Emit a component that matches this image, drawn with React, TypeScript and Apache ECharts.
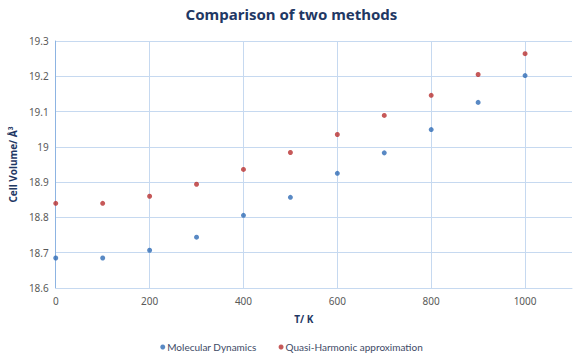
import React, { useEffect, useRef } from "react";
import * as echarts from "echarts";

const temperatures = [0, 100, 200, 300, 400, 500, 600, 700, 800, 900, 1000];
const mdValues = [18.685, 18.685, 18.707, 18.744, 18.806, 18.857, 18.925, 18.983, 19.049, 19.126, 19.202];
const qhaValues = [18.84, 18.84, 18.86, 18.894, 18.936, 18.984, 19.035, 19.089, 19.146, 19.205, 19.264];
const seriesNames = ["Molecular Dynamics", "Quasi-Harmonic approximation"];
const titleText = "Comparison of two methods";
const xAxisName = "T/ K";
const yAxisName = "Cell Volume/ Å³";

export default function App() {
  const ref = useRef<HTMLDivElement>(null);
  useEffect(() => {
    document.body.style.margin = "0";
    const chart = echarts.init(ref.current!, null, { renderer: "svg" });
    const font = "'Noto Sans', sans-serif";
    chart.setOption({
      animation: false,
      backgroundColor: "#ffffff",
      title: {
        text: titleText,
        left: "center",
        top: 1,
        textStyle: { fontFamily: font, fontSize: 15, fontWeight: "bold", color: "#1F3864" },
      },
      grid: { left: 50, right: 11, top: 41, bottom: 75, containLabel: false },
      legend: {
        bottom: 6,
        left: "center",
        icon: "circle",
        itemWidth: 5,
        itemHeight: 5,
        itemGap: 22,
        textStyle: { fontFamily: "Lato, sans-serif", fontSize: 10, color: "#404A66", padding: [0, 0, 0, -3] },
        data: seriesNames,
      },
      xAxis: {
        type: "value",
        min: 0,
        max: 1100,
        interval: 200,
        name: xAxisName,
        nameLocation: "middle",
        nameGap: 26,
        nameTextStyle: { fontFamily: font, fontSize: 10, fontWeight: "bold", color: "#1F3864", padding: [0, 20, 0, 0] },
        axisLine: { show: true, lineStyle: { color: "#C6D9F0", width: 1 } },
        axisTick: { show: false },
        axisLabel: {
          fontFamily: font,
          fontSize: 10,
          color: "#595959",
          margin: 8,
          showMaxLabel: false,
          formatter: (v: number) => String(v),
        },
        splitLine: { show: true, showMaxLine: false, lineStyle: { color: "#C6D9F0", width: 1 } },
      },
      yAxis: {
        type: "value",
        min: 18.6,
        max: 19.3,
        interval: 0.1,
        name: yAxisName,
        nameLocation: "middle",
        nameGap: 30,
        nameTextStyle: { fontFamily: font, fontSize: 10, fontWeight: "bold", color: "#1F3864" },
        axisLine: { show: true, lineStyle: { color: "#8DB4E2", width: 1 } },
        axisTick: { show: false },
        axisLabel: { fontFamily: font, fontSize: 10, color: "#595959", margin: 7 },
        splitLine: { show: true, lineStyle: { color: "#C6D9F0", width: 1 } },
      },
      series: [
        {
          name: seriesNames[0],
          type: "scatter",
          symbol: "circle",
          symbolSize: 5,
          itemStyle: { color: "#2F6BB5" },
          data: temperatures.map((t, i) => [t, mdValues[i]]),
        },
        {
          name: seriesNames[1],
          type: "scatter",
          symbol: "circle",
          symbolSize: 5,
          itemStyle: { color: "#B83030" },
          data: temperatures.map((t, i) => [t, qhaValues[i]]),
        },
      ],
    });
    return () => chart.dispose();
  }, []);
  return <div ref={ref} style={{ width: 583, height: 363 }} />;
}
